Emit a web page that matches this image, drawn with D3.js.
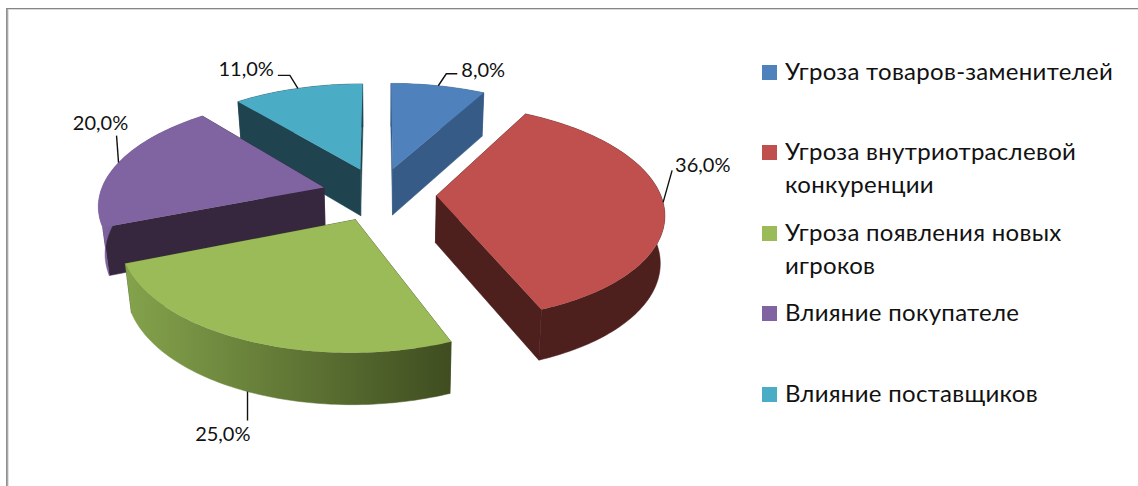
<!DOCTYPE html>
<html><head><meta charset="utf-8">
<script src="https://cdnjs.cloudflare.com/ajax/libs/d3/7.8.5/d3.min.js"></script>
<style>html,body{margin:0;background:#fff}svg{display:block}text{font-family:Lato,"Noto Sans",sans-serif;fill:#111}</style>
</head><body><svg id="c" width="1138" height="486"></svg>
<script>
const categories=["Угроза товаров-заменителей","Угроза внутриотраслевой конкуренции","Угроза появления новых игроков","Влияние покупателе","Влияние поставщиков"];
const legendLines=[["Угроза товаров-заменителей"],["Угроза внутриотраслевой","конкуренции"],["Угроза появления новых","игроков"],["Влияние покупателе"],["Влияние поставщиков"]];
const values=[8,36,25,20,11];
const valueLabels=["8,0%","36,0%","25,0%","20,0%","11,0%"];
const topColors=["#4f81bd","#c0504d","#9bbb59","#8064a2","#4bacc6"];
const wallColors=["#375b87","#4d1f1d","#3f4d20","#36273f","#1f4450"];
const rimStart=["#375b87","#4d1f1d","#84a34c","#7f64a0","#1f4450"];
const rimEnd=["#375b87","#4d1f1d","#3f4d20","#5a4672","#1f4450"];
const legendBaselines=[80,160,241,321,402];
const paintOrder=[4,0,3,1,2];
// leader shape [dx1,dy1,dx2,dy2] from rim anchor, and label anchor from the rim anchor
const leaders=[[8,-12,19,-12],[9,-32,9,-32],[0,29,0,29],[-2,-27,-2,-27],[-8,-13,-20,-13]];
const labelAt=[[23,-16,"start"],[12,-37,"start"],[3,42,"end"],[-18,-40,"middle"],[-24,-19,"end"]];

const cx=379,cy=194,A=224,B=105,persp=0.148,explode=0.256,depth=47,convL=0.024,convR=0.016;
const sx=d3.scaleLinear().domain([-1,1]).range([cx-A,cx+A]);
const sy=d3.scaleLinear().domain([-1,1]).range([cy-B,cy+B]);
const svg=d3.select("#c");
const defs=svg.append("defs");
const line=d3.line().x(d=>d[0]).y(d=>d[1]);

function top3(u,v){const p=1/(1-persp*v);return [cx+(sx(u)-cx)*p,cy+(sy(v)-cy)*p,p];}
function bottom3(u,v){const [x,y,p]=top3(u,v);return [x+(cx-x)*(x<cx?convL:convR),y+depth*Math.sqrt(p)];}

const pie=d3.pie().sort(null).startAngle(0).endAngle(2*Math.PI)(values);
const slices=pie.map((d,i)=>{
  const mid=(d.startAngle+d.endAngle)/2;
  const ou=explode*Math.sin(mid),ov=-explode*Math.cos(mid);
  const rim=t=>[ou+Math.sin(t),ov-Math.cos(t)];
  const n=Math.ceil((d.endAngle-d.startAngle)/0.02);
  const ts=d3.range(n+1).map(k=>d.startAngle+(d.endAngle-d.startAngle)*k/n);
  return {i,mid,ou,ov,rim,ts,d};
});

// frame of the pasted chart
svg.append("line").attr("x1",6).attr("x2",1138).attr("y1",8.5).attr("y2",8.5).attr("stroke","#858585");
svg.append("line").attr("x1",8).attr("x2",1138).attr("y1",9.5).attr("y2",9.5).attr("stroke","#d9d9d9");
svg.append("line").attr("x1",6.5).attr("x2",6.5).attr("y1",8).attr("y2",486).attr("stroke","#8f8f8f");
svg.append("line").attr("x1",7.5).attr("x2",7.5).attr("y1",9).attr("y2",486).attr("stroke","#a8a8a8");
svg.append("line").attr("x1",8.5).attr("x2",8.5).attr("y1",10).attr("y2",486).attr("stroke","#e2e2e2");

paintOrder.forEach(idx=>{
  const s=slices[idx],g=svg.append("g");
  const a=[s.ou,s.ov];
  const rimPts=s.ts.map(s.rim);
  // radial walls
  [s.ts[0],s.ts[s.ts.length-1]].forEach(t=>{
    const e=s.rim(t);
    g.append("path").attr("fill",wallColors[idx]).attr("stroke",wallColors[idx]).attr("stroke-width",0.5)
     .attr("d",line([top3(...a),top3(...e),bottom3(...e),bottom3(...a)])+"Z");
  });
  // curved wall
  const xs=rimPts.map(p=>top3(...p)[0]);
  const id="rim"+idx;
  const gr=defs.append("linearGradient").attr("id",id).attr("gradientUnits","userSpaceOnUse")
    .attr("x1",d3.min(xs)).attr("x2",d3.max(xs)).attr("y1",0).attr("y2",0);
  gr.append("stop").attr("offset",0).attr("stop-color",rimStart[idx]);
  gr.append("stop").attr("offset",1).attr("stop-color",rimEnd[idx]);
  g.append("path").attr("fill",`url(#${id})`).attr("stroke",`url(#${id})`).attr("stroke-width",0.5)
   .attr("d",line(rimPts.map(p=>top3(...p)).concat(rimPts.slice().reverse().map(p=>bottom3(...p))))+"Z");
  // top face
  g.append("path").attr("fill",topColors[idx])
   .attr("d",line([top3(...a)].concat(rimPts.map(p=>top3(...p))))+"Z");
});

// leaders and value labels
slices.forEach(s=>{
  const i=s.i,e=s.rim(s.mid);
  const front=Math.cos(s.mid)<-0.5;
  const [ax,ay]=front?bottom3(...e):top3(...e);
  const L=leaders[i],T=labelAt[i];
  svg.append("path").attr("fill","none").attr("stroke","#111").attr("stroke-width",1.4)
    .attr("d",line([[ax,ay],[ax+L[0],ay+L[1]],[ax+L[2],ay+L[3]]]));
  svg.append("text").attr("x",ax+T[0]).attr("y",ay+T[1]).attr("dy","0.35em")
    .attr("text-anchor",T[2]).attr("font-size",20).text(valueLabels[i]);
});

// legend
categories.forEach((c,i)=>{
  const b=legendBaselines[i];
  svg.append("rect").attr("x",762).attr("y",b-15).attr("width",15).attr("height",15).attr("fill",topColors[i]);
  legendLines[i].forEach((t,k)=>{
    svg.append("text").attr("class","lg").attr("x",785).attr("y",b+k*33).attr("font-size",24).attr("letter-spacing",0.3).text(t);
  });
});
</script></body></html>
